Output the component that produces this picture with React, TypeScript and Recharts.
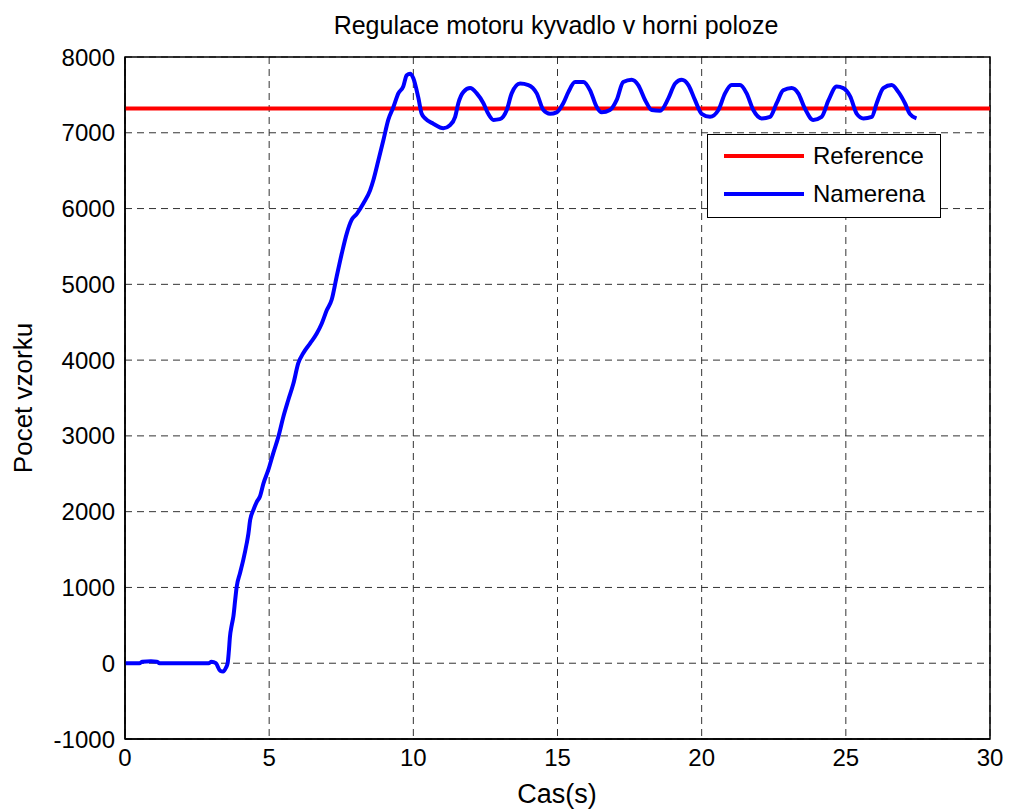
import { CartesianGrid, Legend, Line, LineChart, ReferenceArea, XAxis, YAxis } from 'recharts';

const xTicks = [0, 5, 10, 15, 20, 25, 30];
const yTicks = [-1000, 0, 1000, 2000, 3000, 4000, 5000, 6000, 7000, 8000];

const referenceTime = [0, 30];
const referenceCount = [7320, 7320];

const measuredTime = [
  0, 0.5, 0.6, 0.9, 1.1, 1.2, 2.9, 3.0, 3.15, 3.3, 3.4, 3.5, 3.56, 3.6, 3.64, 3.7, 3.76, 3.82, 3.87, 3.99,
  4.1, 4.22, 4.28, 4.34, 4.45, 4.57, 4.68, 4.8, 4.97, 5.14, 5.32, 5.49, 5.66, 5.84, 6.01, 6.18, 6.42, 6.65,
  6.82, 7.0, 7.17, 7.34, 7.52, 7.69, 7.86, 8.04, 8.27, 8.5, 8.61, 8.79, 8.96, 9.13, 9.31, 9.48, 9.65, 9.77,
  9.89, 10.0, 10.17, 10.29, 10.41, 10.69, 11.04, 11.27, 11.45, 11.56, 11.74, 11.97, 12.2, 12.43, 12.6, 12.78,
  13.0, 13.24, 13.41, 13.7, 13.99, 14.28, 14.51, 14.74, 14.97, 15.2, 15.38, 15.61, 15.9, 16.13, 16.36, 16.53,
  16.82, 17.05, 17.28, 17.57, 17.8, 18.04, 18.27, 18.56, 18.84, 19.08, 19.31, 19.54, 19.77, 20.0, 20.29,
  20.58, 20.81, 21.04, 21.33, 21.56, 21.79, 22.08, 22.37, 22.6, 22.83, 23.12, 23.35, 23.58, 23.87, 24.16,
  24.4, 24.68, 24.91, 25.15, 25.38, 25.61, 25.9, 26.07, 26.3, 26.59, 26.82, 27.05, 27.22, 27.45,
];
const measuredCount = [
  0, 0, 20, 25, 20, 0, 0, 20, 0, -100, -110, -60, 0, 150, 350, 500, 620, 830, 1000, 1190,
  1360, 1580, 1710, 1890, 2020, 2130, 2200, 2370, 2550, 2770, 2990, 3250, 3470, 3690, 3960, 4090, 4220, 4350,
  4480, 4660, 4800, 5100, 5410, 5670, 5850, 5930, 6070, 6240, 6370, 6640, 6900, 7170, 7340, 7520, 7610, 7760,
  7780, 7720, 7470, 7250, 7190, 7120, 7060, 7100, 7210, 7390, 7540, 7590, 7520, 7390, 7250, 7170,
  7180, 7300, 7520, 7650, 7630, 7520, 7300, 7250, 7270, 7390, 7540, 7670, 7670, 7560, 7340, 7270,
  7300, 7430, 7670, 7700, 7630, 7430, 7300, 7290, 7450, 7650, 7700, 7630, 7430, 7250, 7210,
  7300, 7520, 7630, 7630, 7520, 7300, 7190, 7210, 7390, 7560, 7590, 7520, 7320, 7170, 7210,
  7430, 7610, 7590, 7480, 7250, 7190, 7210, 7390, 7590, 7630, 7540, 7390, 7250, 7190,
];

const referenceData = referenceTime.map((t, i) => ({ t, v: referenceCount[i] }));
const measuredData = measuredTime.map((t, i) => ({ t, v: measuredCount[i] }));

const FONT = '"Liberation Sans", Arial, Helvetica, sans-serif';
const tickStyle = { fontSize: 24, fill: '#000', fontFamily: FONT };

function LegendBox() {
  const rows = [
    { label: 'Reference', color: '#ff0000' },
    { label: 'Namerena', color: '#0000ff' },
  ];
  return (
    <div
      style={{
        width: 234,
        height: 84,
        border: '1px solid #000',
        background: '#fff',
        boxSizing: 'border-box',
        paddingTop: 2,
        fontFamily: FONT,
        fontSize: 24,
        color: '#000',
      }}
    >
      {rows.map((r) => (
        <div key={r.label} style={{ display: 'flex', alignItems: 'center', height: 38 }}>
          <div style={{ width: 80, height: 4, background: r.color, marginLeft: 16, marginRight: 9 }} />
          <span>{r.label}</span>
        </div>
      ))}
    </div>
  );
}

export default function App() {
  return (
    <div style={{ position: 'fixed', left: 0, top: 0, width: 1010, height: 809, background: '#fff' }}>
      <LineChart width={1010} height={809} margin={{ top: 57, right: 20, bottom: 40, left: 0 }}>
        <CartesianGrid stroke="#333" strokeDasharray="7 5" strokeWidth={1} />
        <XAxis
          dataKey="t"
          type="number"
          domain={[0, 30]}
          ticks={xTicks}
          allowDataOverflow
          height={30}
          tick={tickStyle}
          tickLine={false}
          tickMargin={4}
          axisLine={{ stroke: '#000', strokeWidth: 1.5 }}
        />
        <YAxis
          type="number"
          domain={[-1000, 8000]}
          ticks={yTicks}
          allowDataOverflow
          width={125}
          tick={tickStyle}
          tickLine={false}
          tickMargin={4}
          axisLine={{ stroke: '#000', strokeWidth: 1.5 }}
        />
        <ReferenceArea x1={0} x2={30} y1={-1000} y2={8000} fill="none" stroke="#000" strokeWidth={1.5} />
        <Line
          data={referenceData}
          dataKey="v"
          name="Reference"
          stroke="#ff0000"
          strokeWidth={4}
          dot={false}
          isAnimationActive={false}
        />
        <Line
          data={measuredData}
          dataKey="v"
          name="Namerena"
          type="monotone"
          stroke="#0000ff"
          strokeWidth={4}
          dot={false}
          isAnimationActive={false}
        />
        <Legend
          layout="vertical"
          align="center"
          verticalAlign="middle"
          wrapperStyle={{ position: 'absolute', left: 707, top: 134, width: 234 }}
          content={() => <LegendBox />}
        />
      </LineChart>
      <svg
        width={1010}
        height={809}
        style={{ position: 'absolute', left: 0, top: 0, pointerEvents: 'none' }}
        fontFamily={FONT}
      >
        <text x={556} y={34} textAnchor="middle" fontSize={25} fill="#000">
          Regulace motoru kyvadlo v horni poloze
        </text>
        <text x={557} y={803} textAnchor="middle" fontSize={27} fill="#000">
          Cas(s)
        </text>
        <text x={32} y={398} textAnchor="middle" fontSize={26} fill="#000" transform="rotate(-90 32 398)">
          Pocet vzorku
        </text>
      </svg>
    </div>
  );
}
